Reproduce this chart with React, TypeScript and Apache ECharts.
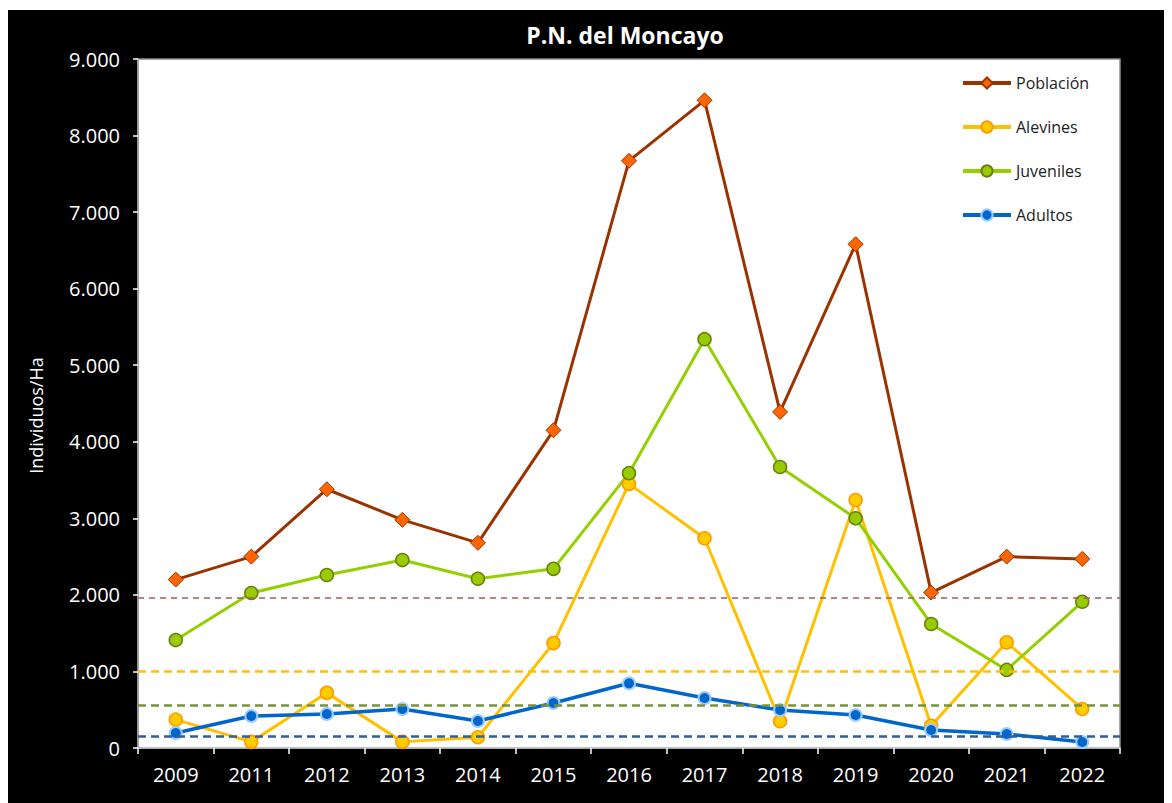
import React, { useEffect, useRef } from "react";
import * as echarts from "echarts";

const years = ["2009", "2011", "2012", "2013", "2014", "2015", "2016", "2017", "2018", "2019", "2020", "2021", "2022"];
const poblacion = [2200, 2500, 3380, 2980, 2680, 4150, 7670, 8460, 4390, 6580, 2030, 2500, 2470];
const alevines = [370, 80, 720, 80, 140, 1370, 3450, 2740, 350, 3240, 290, 1380, 510];
const juveniles = [1410, 2025, 2260, 2455, 2210, 2340, 3590, 5340, 3670, 3000, 1620, 1020, 1910];
const adultos = [196, 418, 444, 509, 353, 588, 845, 653, 496, 431, 235, 183, 78];
const refPoblacion = 1965;
const refAlevines = 1005;
const refJuveniles = 560;
const refAdultos = 160;

const FONT = "'Open Sans', Lato, sans-serif";

function fmt(v: number): string {
  return String(Math.round(v)).replace(/\B(?=(\d{3})+(?!\d))/g, ".");
}

export default function App() {
  const ref = useRef<HTMLDivElement>(null);
  useEffect(() => {
    if (!ref.current) return;
    const chart = echarts.init(ref.current, undefined, { renderer: "svg" });
    const ml = (value: number, color: string, width: number, dash: number[]) => ({
      silent: true,
      symbol: "none",
      label: { show: false },
      lineStyle: { color, width, type: dash },
      data: [{ yAxis: value }],
    });
    chart.setOption({
      animation: false,
      backgroundColor: "#000000",
      textStyle: { fontFamily: FONT },
      title: {
        text: "P.N. del Moncayo",
        left: 612,
        textAlign: "center",
        top: 8,
        textStyle: { color: "#ffffff", fontSize: 23, fontWeight: "bold", fontFamily: FONT },
      },
      legend: {
        orient: "vertical",
        left: 948,
        top: 60,
        itemWidth: 48,
        itemHeight: 14,
        itemGap: 28,
        lineStyle: { width: 4 },
        textStyle: { color: "#222222", fontSize: 16, fontFamily: FONT },
        data: ["Población", "Alevines", "Juveniles", "Adultos"],
      },
      grid: {
        left: 130,
        top: 49,
        right: 52,
        bottom: 55,
        show: true,
        backgroundColor: "#ffffff",
        borderColor: "#8c8c8c",
        borderWidth: 1.5,
      },
      xAxis: {
        type: "category",
        data: years,
        boundaryGap: true,
        axisLine: { lineStyle: { color: "#c8c8c8", width: 1.5 } },
        axisTick: { show: true, length: 6, lineStyle: { color: "#ffffff", width: 1.5 } },
        axisLabel: { color: "#ffffff", fontSize: 20, margin: 16, fontFamily: FONT },
        splitLine: { show: false },
      },
      yAxis: {
        type: "value",
        min: 0,
        max: 9000,
        interval: 1000,
        name: "Individuos/Ha",
        nameLocation: "middle",
        nameGap: 93,
        nameMoveOverlap: false,
        nameTextStyle: { color: "#ffffff", fontSize: 18, fontFamily: FONT, padding: [0, 24, 0, 0] },
        axisLine: { show: true, lineStyle: { color: "#a6a6a6", width: 1.5 } },
        axisTick: { show: true, length: 5, lineStyle: { color: "#ffffff", width: 1.5 } },
        axisLabel: { color: "#ffffff", fontSize: 20, margin: 18, fontFamily: FONT, formatter: (v: number) => fmt(v) },
        splitLine: { show: false },
      },
      series: [
        {
          name: "Población",
          type: "line",
          data: poblacion,
          symbol: "diamond",
          symbolSize: 15,
          lineStyle: { color: "#993300", width: 3 },
          itemStyle: { color: "#FF6600", borderColor: "#993300", borderWidth: 1 },
          markLine: ml(refPoblacion, "#A85858", 1.5, [6, 5]),
        },
        {
          name: "Alevines",
          type: "line",
          data: alevines,
          symbol: "circle",
          symbolSize: 13,
          lineStyle: { color: "#FFC000", width: 3 },
          itemStyle: { color: "#FFCC00", borderColor: "#FF9900", borderWidth: 1.5 },
          markLine: ml(refAlevines, "#FFC000", 2.5, [8, 5]),
        },
        {
          name: "Juveniles",
          type: "line",
          data: juveniles,
          symbol: "circle",
          symbolSize: 13,
          lineStyle: { color: "#92D000", width: 3 },
          itemStyle: { color: "#99CC00", borderColor: "#6B7F10", borderWidth: 1.5 },
          markLine: ml(refJuveniles, "#77933C", 2.5, [8, 5]),
        },
        {
          name: "Adultos",
          type: "line",
          data: adultos,
          symbol: "circle",
          symbolSize: 12,
          lineStyle: { color: "#0066CC", width: 3.5 },
          itemStyle: { color: "#0066CC", borderColor: "#99CCFF", borderWidth: 2 },
          markLine: ml(refAdultos, "#2F5F98", 2.5, [8, 5]),
        },
      ],
    });
    return () => chart.dispose();
  }, []);
  return (
    <div style={{ paddingTop: 2 }}>
      <div ref={ref} style={{ width: 1164, height: 793 }} />
    </div>
  );
}
